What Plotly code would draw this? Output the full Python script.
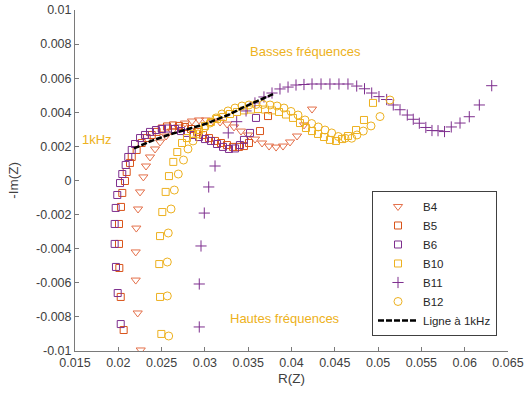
import plotly.graph_objects as go

# ---- data (R(Z), -Im(Z)) ----
B4_R = [0.02259,0.02224,0.02201,0.02201,0.02208,0.02228,0.02251,0.02289,0.0232,0.02366,0.02424,0.02482,0.02551,0.0262,0.0269,0.0277,0.02851,0.02932,0.03013,0.03094,0.03175,0.03256,0.03336,0.03417,0.03498,0.03579,0.0366,0.03741,0.03822,0.03902,0.03983,0.04064,0.04145,0.04237]
B4_IM = [-0.00994,-0.00777,-0.00584,-0.00419,-0.00279,-0.00167,-0.00067,0.00021,0.00085,0.00138,0.00185,0.00226,0.00261,0.0029,0.00314,0.00337,0.00349,0.00355,0.00355,0.00349,0.00343,0.00331,0.00314,0.0029,0.00267,0.00243,0.0022,0.00202,0.00196,0.00202,0.00226,0.00261,0.00326,0.00419]

B5_R = [0.02062,0.02028,0.02012,0.02008,0.02008,0.02031,0.02046,0.02077,0.02097,0.02135,0.02155,0.02212,0.0227,0.02328,0.02386,0.02443,0.02501,0.02562,0.02632,0.02701,0.0277,0.0284,0.02909,0.02978,0.03047,0.03117,0.03186,0.03255,0.03324,0.03394,0.03451,0.03509,0.03636,0.03729]
B5_IM = [-0.00877,-0.00683,-0.00513,-0.00372,-0.00255,-0.00155,-0.00073,-0.00003,0.0005,0.00103,0.00138,0.00179,0.0022,0.00249,0.00267,0.00285,0.00305,0.00317,0.00323,0.0032,0.00314,0.00302,0.00285,0.00267,0.00249,0.00232,0.0022,0.00208,0.00197,0.00197,0.00202,0.0022,0.0029,0.00378]

B6_R = [0.02028,0.01993,0.01973,0.01958,0.01958,0.0197,0.01988,0.0202,0.02046,0.02085,0.02115,0.02155,0.02193,0.02251,0.02308,0.02366,0.02435,0.02505,0.02574,0.02655,0.02724,0.02793,0.02863,0.02932,0.03001,0.0307,0.0314,0.03209,0.03278,0.03348,0.03405,0.03451,0.03521,0.0359]
B6_IM = [-0.00842,-0.0066,-0.00507,-0.00372,-0.00255,-0.00161,-0.00085,-0.00015,0.00038,0.00091,0.00138,0.00179,0.00214,0.00249,0.00267,0.00285,0.00296,0.00302,0.00305,0.00302,0.0029,0.00279,0.00267,0.00255,0.00243,0.00232,0.00214,0.00197,0.00185,0.00188,0.00208,0.00238,0.00279,0.00367]

B10_R = [0.02497,0.02482,0.02473,0.02482,0.02508,0.02547,0.02585,0.02635,0.02681,0.02736,0.02793,0.02863,0.02932,0.03001,0.0307,0.0314,0.03209,0.0329,0.03371,0.03451,0.03532,0.03613,0.03694,0.03775,0.03856,0.03936,0.04017,0.04098,0.04167,0.04237,0.04306,0.04375,0.04444,0.04514,0.04583,0.04652,0.04745,0.04837,0.04941]
B10_IM = [-0.009,-0.00683,-0.0049,-0.00326,-0.00185,-0.00067,0.00026,0.00109,0.00167,0.0022,0.00249,0.00273,0.00296,0.0032,0.00343,0.00361,0.00372,0.0039,0.00402,0.00411,0.00416,0.00419,0.00416,0.00411,0.00402,0.00387,0.00367,0.00337,0.00308,0.0029,0.00273,0.00255,0.00238,0.00232,0.00243,0.00261,0.00296,0.00355,0.00455]

B11_R = [0.02935,0.02935,0.02955,0.02993,0.03044,0.03117,0.0327,0.03367,0.03475,0.03578,0.03682,0.03775,0.03867,0.0396,0.04052,0.04144,0.04237,0.04341,0.04444,0.04548,0.04652,0.04753,0.04843,0.04926,0.0501,0.05099,0.05175,0.05253,0.05337,0.05406,0.05476,0.05551,0.05622,0.05692,0.05767,0.05845,0.05946,0.06053,0.06169,0.06312]
B11_IM = [-0.00859,-0.00607,-0.00384,-0.00191,-0.00038,0.00085,0.00279,0.00345,0.00408,0.00455,0.0049,0.00513,0.00537,0.00548,0.0056,0.00563,0.00566,0.00566,0.00566,0.00566,0.00566,0.00554,0.00538,0.00513,0.00492,0.00475,0.00443,0.00415,0.00384,0.00359,0.00336,0.00311,0.00293,0.00292,0.00287,0.00314,0.00337,0.00374,0.00443,0.00556]

B12_R = [0.02582,0.02566,0.02566,0.02577,0.02609,0.02647,0.02693,0.02753,0.02805,0.02863,0.0292,0.0299,0.03059,0.03128,0.03197,0.03267,0.03348,0.03428,0.03509,0.0359,0.03671,0.03752,0.03833,0.03913,0.03994,0.04075,0.04156,0.04233,0.04309,0.04387,0.04464,0.0454,0.04618,0.04695,0.04756,0.04829,0.04918,0.05022,0.05137]
B12_IM = [-0.00912,-0.00677,-0.00478,-0.00308,-0.00167,-0.00056,0.00038,0.0012,0.00185,0.00232,0.00273,0.00308,0.00337,0.00367,0.0039,0.00408,0.00425,0.00437,0.00443,0.00446,0.00446,0.00443,0.00437,0.00425,0.00405,0.00384,0.00355,0.00334,0.00314,0.00296,0.00279,0.00258,0.00248,0.00248,0.00267,0.0029,0.0032,0.00375,0.00472]

LINE_R = [0.02181,0.02366,0.02574,0.02805,0.03002,0.03267,0.03464,0.0366,0.03787]
LINE_IM = [0.00188,0.00229,0.00267,0.00302,0.00331,0.00384,0.00434,0.00478,0.00507]

X_TICKS = [0.015,0.02,0.025,0.03,0.035,0.04,0.045,0.05,0.055,0.06,0.065]
X_TICK_LABELS = ["0.015","0.02","0.025","0.03","0.035","0.04","0.045","0.05","0.055","0.06","0.065"]
Y_TICKS = [-0.01,-0.008,-0.006,-0.004,-0.002,0,0.002,0.004,0.006,0.008,0.01]
Y_TICK_LABELS = ["-0.01","-0.008","-0.006","-0.004","-0.002","0","0.002","0.004","0.006","0.008","0.01"]

ORANGE = "#D95319"
ORANGE_L = "#E4704A"
PURPLE = "#7E2F8E"
YELLOW = "#EDB120"
FONT = "Liberation Sans, Arial, sans-serif"

series = [
    ("B4", B4_R, B4_IM, "triangle-down-open", 8, ORANGE_L),
    ("B5", B5_R, B5_IM, "square-open", 7, ORANGE),
    ("B6", B6_R, B6_IM, "square-open", 7, PURPLE),
    ("B10", B10_R, B10_IM, "square-open", 7, YELLOW),
    ("B11", B11_R, B11_IM, "cross-thin-open", 8, PURPLE),
    ("B12", B12_R, B12_IM, "circle-open", 8, YELLOW),
]

fig = go.Figure()
for name, xs, ys, sym, size, col in series:
    fig.add_trace(go.Scatter(
        x=xs, y=ys, mode="markers", name=name,
        marker=dict(symbol=sym, size=size, color=col, line=dict(width=1, color=col)),
    ))
fig.add_trace(go.Scatter(
    x=LINE_R, y=LINE_IM, mode="lines", name="Ligne à 1kHz",
    line=dict(color="black", width=2.5, dash="6px,2px"),
))

ann_font = dict(family=FONT, size=13, color=YELLOW)
fig.add_annotation(x=0.04156, y=0.00754, text="Basses fréquences", showarrow=False, font=ann_font)
fig.add_annotation(x=0.01754, y=0.00243, text="1kHz", showarrow=False, font=ann_font)
fig.add_annotation(x=0.03925, y=-0.00812, text="Hautes fréquences", showarrow=False, font=ann_font)

axis_common = dict(
    showline=True, linecolor="#7a7a7a", linewidth=1, mirror=False,
    showgrid=False, zeroline=False, automargin=False,
    ticks="inside", ticklen=4, tickcolor="#7a7a7a",
    tickfont=dict(family=FONT, size=12.5, color="#404040"),
)
fig.update_xaxes(range=[0.015, 0.065], tickvals=X_TICKS, ticktext=X_TICK_LABELS,
                 title=dict(text="R(Z)", font=dict(family=FONT, size=13.5, color="#404040"), standoff=4),
                 **axis_common)
fig.update_yaxes(range=[-0.01, 0.01], tickvals=Y_TICKS, ticktext=Y_TICK_LABELS,
                 title=dict(text="-Im(Z)", font=dict(family=FONT, size=13.5, color="#404040"), standoff=14),
                 **axis_common)

fig.update_layout(
    width=527, height=399,
    margin=dict(l=75, r=19, t=10, b=48, autoexpand=False),
    plot_bgcolor="white", paper_bgcolor="white",
    font=dict(family=FONT, color="#262626"),
    showlegend=True,
    legend=dict(x=0.9746, y=0.044, xanchor="right", yanchor="bottom",
                bgcolor="white", bordercolor="#404040", borderwidth=1,
                font=dict(family=FONT, size=11.5, color="#262626"),
                itemwidth=40, tracegroupgap=0),
)

fig.write_html("out.html", config={"displayModeBar": False},
               post_script="document.body.style.margin='0px';document.body.style.overflow='hidden';")
